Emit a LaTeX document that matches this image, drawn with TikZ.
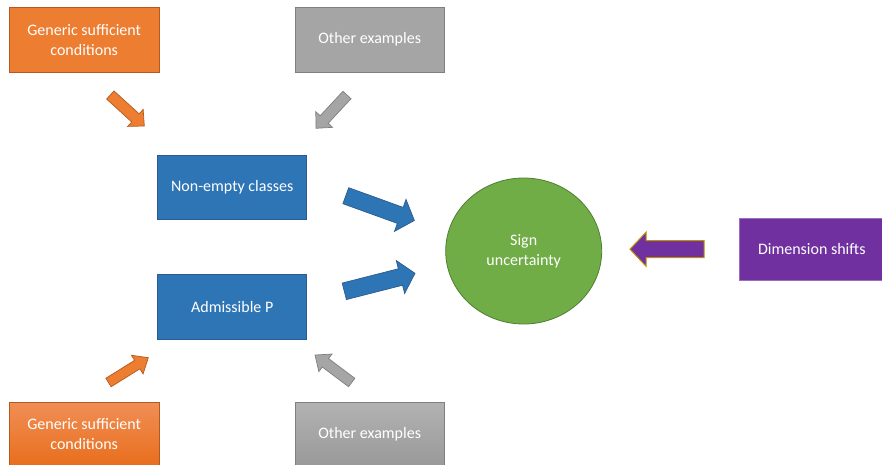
\documentclass[tikz,border=0pt]{standalone}
\usepackage{fontspec}
\setmainfont{Carlito}
\usetikzlibrary{shapes.geometric,calc}
\definecolor{cOrange}{HTML}{ED7D31}
\definecolor{cOrangeD}{HTML}{B35A1F}
\definecolor{cOrangeT}{HTML}{F18E55}
\definecolor{cOrangeB}{HTML}{E86E1C}
\definecolor{cGray}{HTML}{A5A5A5}
\definecolor{cGrayD}{HTML}{7F7F7F}
\definecolor{cGrayT}{HTML}{B2B2B2}
\definecolor{cGrayB}{HTML}{999999}
\definecolor{cBlue}{HTML}{2E75B6}
\definecolor{cBlueD}{HTML}{2A5C8F}
\definecolor{cGreen}{HTML}{70AD47}
\definecolor{cGreenD}{HTML}{507E32}
\definecolor{cPurple}{HTML}{7030A0}
\definecolor{cGold}{HTML}{BF9000}
\newcommand\blkarrow[6]{%
  \path (#2); \pgfgetlastxy{\bax}{\bay}%
  \path (#3); \pgfgetlastxy{\bbx}{\bby}%
  \pgfmathsetmacro\bang{atan2(\bby-\bay,\bbx-\bax)}%
  \pgfmathsetmacro\blen{veclen(\bbx-\bax,\bby-\bay)}%
  \draw[#1,shift={(#2)},rotate=\bang] (0,{-#4/2}) -- ({\blen-#6},{-#4/2}) -- ({\blen-#6},{-#5/2}) -- (\blen,0) -- ({\blen-#6},{#5/2}) -- ({\blen-#6},{#4/2}) -- (0,{#4/2}) -- cycle;}
\tikzset{
  box/.style={rectangle, text=white, align=center, inner sep=0pt,
    font=\fontsize{16}{20}\selectfont, line width=0.8pt},
  orangebox/.style={box, fill=cOrange, draw=cOrangeD},
  orangegrad/.style={box, top color=cOrangeT, bottom color=cOrangeB, draw=cOrangeD},
  graybox/.style={box, fill=cGray, draw=cGrayD},
  graygrad/.style={box, top color=cGrayT, bottom color=cGrayB, draw=cGrayD},
  bluebox/.style={box, fill=cBlue, draw=cBlueD},
  purplebox/.style={box, fill=cPurple, draw=cPurple!70!white},
  greencirc/.style={ellipse, text=white, align=center, inner sep=0pt,
    font=\fontsize{16}{20}\selectfont, fill=cGreen, draw=cGreenD, line width=0.8pt},
  orangearr/.style={fill=cOrange, draw=cOrangeD, line width=0.7pt, line join=miter},
  grayarr/.style={fill=cGray, draw=cGrayD, line width=0.7pt, line join=miter},
  bluearr/.style={fill=cBlue, draw=cBlueD, line width=0.7pt, line join=miter},
  purplearr/.style={fill=cPurple, draw=cGold, line width=1pt, line join=miter},
}
\begin{document}
\begin{tikzpicture}[x=1pt,y=1pt]
\useasboundingbox[fill=white] (0,0) rectangle (882,-464);

\node[orangebox, minimum width=150, minimum height=65] (gsc1) at (84.2,-39.7) {Generic sufficient\\conditions};
\node[graybox, minimum width=149, minimum height=65] (oe1) at (369.7,-39.7) {Other examples};
\node[bluebox, minimum width=149, minimum height=64] (nec) at (232.2,-187.2) {Non-empty classes};
\node[bluebox, minimum width=149, minimum height=65] (adp) at (232.2,-306.5) {Admissible P};
\node[orangegrad, minimum width=150, minimum height=64] (gsc2) at (84.2,-434.5) {Generic sufficient\\conditions};
\node[graygrad, minimum width=149, minimum height=64] (oe2) at (369.7,-434.5) {Other examples};
\node[greencirc, minimum width=156, minimum height=146] (sign) at (523.7,-251) {Sign\\uncertainty};
\node[purplebox, minimum width=145, minimum height=62] (dim) at (811.8,-249.2) {Dimension shifts};

\coordinate (a1t) at (110.3,-95);   \coordinate (a1h) at (144.3,-126);
\coordinate (a2t) at (347,-95);     \coordinate (a2h) at (316,-128.3);
\coordinate (a3t) at (108.5,-382.5);\coordinate (a3h) at (148.3,-357.7);
\coordinate (a4t) at (351.7,-382.5);\coordinate (a4h) at (315,-355);
\coordinate (b1t) at (345.8,-195.7);\coordinate (b1h) at (414.4,-220.5);
\coordinate (b2t) at (344.3,-291.3);\coordinate (b2h) at (415,-273.3);
\coordinate (p1t) at (704,-249.2);  \coordinate (p1h) at (630,-249.2);

\blkarrow{orangearr}{a1t}{a1h}{11}{23}{12}
\blkarrow{grayarr}{a2t}{a2h}{11}{23}{12}
\blkarrow{orangearr}{a3t}{a3h}{10}{22}{13}
\blkarrow{grayarr}{a4t}{a4h}{10.5}{22}{13}
\blkarrow{bluearr}{b1t}{b1h}{17}{34}{15}
\blkarrow{bluearr}{b2t}{b2h}{17}{34}{15}
\blkarrow{purplearr}{p1t}{p1h}{17}{34}{16}
\end{tikzpicture}
\end{document}
